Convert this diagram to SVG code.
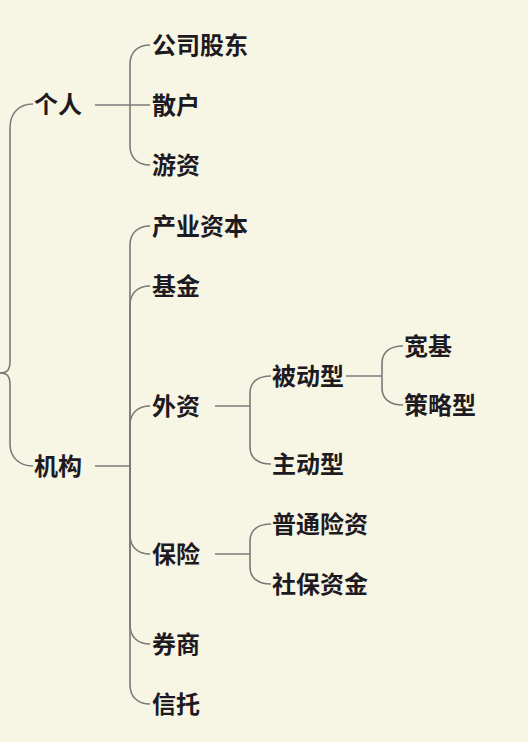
<svg xmlns="http://www.w3.org/2000/svg" width="528" height="742" viewBox="0 0 528 742">
<style>
.bg{fill:#f7f6e5}
.c{fill:none;stroke:#7a7a7a;stroke-width:1.6}
text{font-family:"Noto Sans CJK SC","Noto Sans",sans-serif;font-size:24px;font-weight:bold;fill:#1e1a22}
</style>
<rect class="bg" x="0" y="0" width="528" height="742"/>
<g id="connectors">
<path class="c" d="M0,373 C8,373 10,369 10,361 L10,128 C10,112 20,104 33,104"/>
<path class="c" d="M0,373 C8,373 10,377 10,385 L10,444 C10,458 20,466 33,466"/>
<path class="c" d="M95,105 L150,105"/>
<path class="c" d="M130,105 L130,64 C130,52 138,45 150,45"/>
<path class="c" d="M130,105 L130,146 C130,158 138,165 150,165"/>
<path class="c" d="M95,466 L130,466"/>
<path class="c" d="M130,466 L130,245 C130,233 138,226 150,226"/>
<path class="c" d="M130,466 L130,305 C130,293 138,286 150,286"/>
<path class="c" d="M130,466 L130,425 C130,413 138,406 150,406"/>
<path class="c" d="M130,466 L130,535 C130,547 138,554 150,554"/>
<path class="c" d="M130,466 L130,625 C130,637 138,644 150,644"/>
<path class="c" d="M130,466 L130,685 C130,697 138,704 150,704"/>
<path class="c" d="M215,406 L250,406"/>
<path class="c" d="M250,406 L250,393 C250,382 258,376 271,376"/>
<path class="c" d="M250,406 L250,447 C250,458 258,464 271,464"/>
<path class="c" d="M346,376 L382,376"/>
<path class="c" d="M382,376 L382,363 C382,352 390,346 403,346"/>
<path class="c" d="M382,376 L382,388 C382,399 390,405 403,405"/>
<path class="c" d="M215,554 L250,554"/>
<path class="c" d="M250,554 L250,541 C250,530 258,524 271,524"/>
<path class="c" d="M250,554 L250,567 C250,578 258,584 271,584"/>
</g>
<g id="n-geren"><text x="34" y="113">个人</text></g>
<g id="n-jigou"><text x="34" y="475">机构</text></g>
<g id="n-gongsigudong"><text x="152" y="54">公司股东</text></g>
<g id="n-sanhu"><text x="152" y="114">散户</text></g>
<g id="n-youzi"><text x="152" y="174">游资</text></g>
<g id="n-chanye"><text x="152" y="235">产业资本</text></g>
<g id="n-jijin"><text x="152" y="295">基金</text></g>
<g id="n-waizi"><text x="152" y="415">外资</text></g>
<g id="n-baoxian"><text x="152" y="563">保险</text></g>
<g id="n-quanshang"><text x="152" y="653">券商</text></g>
<g id="n-xintuo"><text x="152" y="713">信托</text></g>
<g id="n-beidong"><text x="272" y="385">被动型</text></g>
<g id="n-zhudong"><text x="272" y="473">主动型</text></g>
<g id="n-kuanji"><text x="404" y="355">宽基</text></g>
<g id="n-celue"><text x="404" y="414">策略型</text></g>
<g id="n-putong"><text x="272" y="533">普通险资</text></g>
<g id="n-shebao"><text x="272" y="593">社保资金</text></g>
</svg>
